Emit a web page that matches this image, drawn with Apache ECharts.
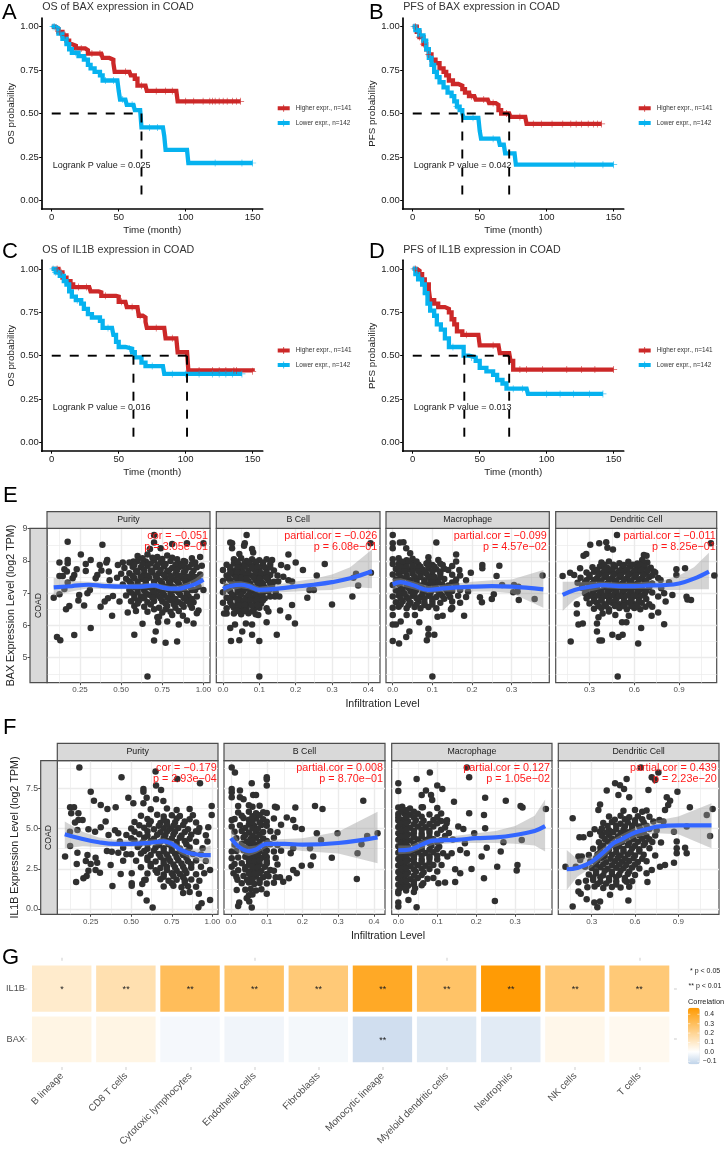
<!DOCTYPE html>
<html><head><meta charset="utf-8">
<style>html,body{margin:0;padding:0;background:#fff}#c{width:724px;height:1149px}</style>
<script src="https://cdn.jsdelivr.net/npm/echarts@6/dist/echarts.min.js"></script>
</head><body><div id="c"></div>
<script>
const ff='"Liberation Sans",Arial,sans-serif';
const RED='#cc2828',BLUE='#06b2ef';
const seriesHigh='Higher expr., n=141',seriesLow='Lower expr., n=142';
// Kaplan-Meier curves: flat month,survival pairs
const A_high=[0,1,3,.99,5,.97,8,.95,11,.92,13,.9,15,.89,18,.875,25,.865,27,.845,37,.845,38,.82,43,.81,46,.79,47,.74,58,.74,59,.72,62,.7,64,.66,70,.655,71,.63,93,.63,94,.57,141,.57];
const A_low=[0,1,3,.99,5,.96,8,.93,11,.9,13,.87,15,.85,20,.83,24,.81,27,.78,29,.76,32,.74,36,.72,38,.69,49,.685,50,.63,51,.58,55,.575,56,.55,61,.55,62,.52,66,.51,67,.42,83,.42,84,.37,85,.29,101,.29,102,.215,150,.215];
const B_high=[0,1,3,.97,5,.94,8,.9,10,.87,12,.84,14,.81,17,.79,20,.76,23,.74,25,.72,27,.69,30,.67,34,.66,37,.64,39,.62,42,.6,46,.6,47,.58,56,.58,57,.56,62,.55,64,.52,66,.5,72,.5,73,.48,84,.48,85,.44,141,.44];
const B_low=[0,1,2,.98,5,.95,8,.92,10,.87,12,.82,14,.78,16,.74,18,.71,20,.68,23,.65,26,.62,29,.6,31,.57,33,.54,35,.52,37,.5,38,.475,49,.475,50,.4,51,.355,64,.355,65,.32,68,.315,69,.27,76,.27,77,.205,150,.205];
const C_high=[0,1,5,.98,8,.95,11,.93,14,.91,16,.895,28,.89,29,.87,35,.865,37,.845,48,.84,50,.81,55,.805,56,.78,64,.775,65,.73,68,.72,70,.695,71,.66,84,.66,85,.6,93,.6,94,.52,101,.515,102,.415,150,.41];
const C_low=[0,1,3,.98,6,.96,9,.93,11,.91,13,.87,15,.84,18,.82,22,.8,24,.77,27,.74,30,.72,36,.7,38,.66,45,.655,46,.62,48,.58,50,.55,55,.54,60,.52,62,.49,67,.46,70,.44,83,.435,84,.395,142,.395];
const D_high=[0,1,3,.99,5,.97,7,.94,9,.91,12,.88,13,.82,16,.8,19,.78,24,.77,27,.75,29,.71,31,.68,33,.64,37,.62,49,.62,50,.56,64,.56,65,.515,72,.51,73,.47,75,.42,150,.42];
const D_low=[0,1,2,.97,4,.94,7,.91,9,.86,11,.8,13,.76,16,.73,18,.68,21,.65,24,.6,27,.55,36,.55,38,.5,42,.49,47,.47,50,.43,55,.41,60,.39,63,.36,67,.34,70,.31,85,.31,86,.28,142,.28];
// censor times
const A_high_c=[3,6,10,22,30,36,55,67,78,85,90,100,106,113,118,120,122,125,128,131,135,138,141];
const A_low_c=[1,2,4,12,18,26,40,46,53,60,73,79,122,142,150];
const B_high_c=[2,5,8,12,26,44,53,60,70,80,90,96,104,112,118,122,126,131,135,138,141];
const B_low_c=[1,3,6,9,11,15,33,45,60,72,121,142,150];
const C_high_c=[4,7,20,26,40,52,60,66,78,90,110,120,125,130,136,138,150];
const C_low_c=[1,3,5,8,12,19,42,58,75,90,100,110,120,125,130,135,142];
const D_high_c=[2,4,40,60,80,85,97,115,126,136,150];
const D_low_c=[1,3,6,10,30,44,75,82,100,110,120,132,142];
const medians=[[67],[37,72],[61,101],[38.5,72]];
const kmTitles=['OS of BAX expression in COAD','PFS of BAX expression in COAD','OS of IL1B expression in COAD','PFS of IL1B expression in COAD'];
const kmPvals=['0.025','0.042','0.016','0.013'];
const kmYNames=['OS probability','PFS probability','OS probability','PFS probability'];
const kmXTicks=[0,50,100,150],kmYTicks=[0,.25,.5,.75,1];
// smooth fits: flat x,y,lower,upper
const e1_fit=[.09,7.18,6.92,7.48,.2,7.22,7.05,7.38,.3,7.26,7.15,7.35,.4,7.22,7.12,7.33,.5,7.2,7.12,7.28,.6,7.2,7.12,7.29,.7,7.24,7.16,7.32,.75,7.18,7.1,7.27,.8,7.14,7.06,7.22,.85,7.14,7.05,7.24,.9,7.2,7.08,7.32,.95,7.28,7.12,7.45,1,7.42,7.2,7.65];
const e2_fit=[0,7.13,6.9,7.35,.02,7.22,7.08,7.36,.05,7.26,7.15,7.37,.07,7.22,7.12,7.32,.1,7.1,7,7.2,.15,7.14,7.02,7.27,.2,7.2,7.05,7.36,.25,7.26,7.08,7.45,.3,7.34,7.1,7.58,.35,7.46,7.2,7.8,.41,7.68,7.15,8.35];
const e3_fit=[0,7.27,7.1,7.45,.02,7.34,7.22,7.46,.05,7.25,7.13,7.37,.09,7.1,7,7.22,.13,7.15,7.05,7.26,.2,7.2,7.05,7.35,.25,7.22,7.05,7.4,.3,7.2,7,7.42,.38,7.12,6.55,7.72];
const e4_fit=[.12,6.95,6.45,7.35,.2,7.1,6.8,7.35,.3,7.2,7.05,7.35,.4,7.25,7.15,7.35,.5,7.22,7.13,7.32,.6,7.22,7.13,7.32,.7,7.24,7.13,7.36,.8,7.25,7.1,7.4,.9,7.3,7.1,7.55,1,7.45,7.12,7.8,1.1,7.67,7.12,8.25];
const f1_fit=[.09,4.64,3.77,5.43,.2,4.35,3.9,4.8,.3,4.15,3.85,4.45,.4,4.05,3.85,4.3,.5,4.05,3.85,4.3,.6,4.1,3.9,4.3,.7,4.2,4,4.4,.75,4.05,3.85,4.25,.8,3.7,3.45,3.95,.85,3.5,3.2,3.75,.9,3.4,3.05,3.7,.95,3.35,2.9,3.8,.99,3.35,2.8,3.95];
const f2_fit=[0,4.4,3.8,5,.02,3.9,3.5,4.3,.05,3.6,3.3,3.9,.07,3.7,3.45,3.95,.1,4.05,3.8,4.3,.15,4.05,3.75,4.35,.2,4,3.6,4.4,.3,4.1,3.45,4.8,.41,4.45,2.85,6.05];
const f3_fit=[0,3.65,3.4,3.95,.03,3.7,3.45,3.95,.06,4,3.75,4.25,.09,4.25,4,4.45,.15,4.3,4.1,4.55,.2,4.4,4.1,4.7,.25,4.45,4.1,4.85,.3,4.6,4.05,5.15,.35,4.85,3.95,5.8,.377,5.15,3.57,6.8];
const f4_fit=[.127,2.47,1.18,3.67,.2,2.55,2,3.1,.3,2.94,2.6,3.3,.4,3.67,3.35,3.95,.45,4.08,3.8,4.35,.5,4.3,4,4.6,.6,4.75,4.45,5.05,.7,5,4.65,5.35,.75,5.12,4.7,5.5,.9,5.2,4.65,5.75,1.13,5.2,3.77,6.57];
// scatter values: flat x,y pairs
const e1_pts=[.175,8.59,.7,8.8,.7,8.57,.675,8.37,.74,8.39,.386,8.5,.9,8.55,1,8.55,.81,8.52,.255,8.2,.315,8.03,.125,7.95,.175,8.03,.175,7.93,.285,7.9,.415,8.03,.41,7.95,.51,7.95,.48,7.87,.575,7.98,.37,7.87,.23,7.74,.155,7.74,.17,7.67,.285,7.69,.38,7.7,.425,7.67,.355,7.56,.345,7.46,.125,7.53,.145,7.53,.215,7.56,.205,7.46,.175,7.33,.5,7.6,.43,7.4,.475,7.48,.09,6.86,.125,6.97,.155,7.13,.165,6.5,.185,6.6,.24,6.77,.245,6.94,.295,7,.31,7.1,.275,6.62,.375,6.58,.4,6.74,.42,6.84,.45,6.91,.49,6.74,.445,6.3,.315,5.92,.215,5.7,.11,5.64,.13,5.54,.54,6.4,.59,6.45,.58,5.71,.63,6.05,.66,6.42,.71,5.81,.7,5.53,.77,5.46,.84,5.5,.66,4.42,.9,6.15,.94,6.06,.85,6.03,.78,6.12,.725,6.1,.73,6.27,.81,6.32,.875,6.3,.97,6.46,.96,6.38,
.6,8.15,.66,8.2,.72,8.12,.78,8.17,.84,8.05,.93,8.08,.98,8.12,.55,7.95,.6,8,.65,7.98,.7,8.02,.74,7.95,.8,8,.85,7.92,.89,7.97,.95,7.95,.52,7.78,.57,7.82,.62,7.8,.66,7.85,.71,7.8,.76,7.83,.81,7.78,.86,7.82,.91,7.8,.96,7.8,.99,7.85,.55,7.62,.6,7.65,.64,7.6,.69,7.64,.73,7.62,.78,7.66,.83,7.6,.88,7.64,.93,7.6,.98,7.58,.53,7.45,.58,7.47,.63,7.44,.67,7.48,.72,7.45,.77,7.48,.82,7.43,.87,7.47,.92,7.44,.97,7.42,.51,7.27,.56,7.3,.6,7.27,.65,7.3,.7,7.28,.75,7.3,.8,7.27,.85,7.3,.9,7.28,.95,7.1,1,7.1,.55,7.1,.6,7.12,.64,7.08,.69,7.12,.73,7.1,.78,7.13,.83,7.08,.88,7.12,.93,7.1,.53,6.93,.58,6.95,.62,6.9,.67,6.95,.72,6.92,.76,6.95,.81,6.9,.86,6.94,.91,6.9,.96,6.9,.56,6.75,.61,6.78,.66,6.72,.7,6.76,.75,6.74,.8,6.78,.85,6.72,.9,6.76,.94,6.72,.58,6.6,.64,6.58,.73,6.55,.78,6.6,.83,6.55,.88,6.58,.93,6.55,.75,6.4,.8,6.42,.72,6.25,
.63,8.08,.69,8.1,.75,8.06,.81,8.1,.88,8,.58,7.88,.63,7.9,.68,7.92,.72,7.88,.77,7.9,.83,7.88,.88,7.87,.93,7.9,.59,7.7,.64,7.72,.68,7.7,.74,7.72,.79,7.7,.84,7.72,.89,7.7,.94,7.7,.57,7.54,.62,7.52,.66,7.54,.71,7.53,.76,7.56,.8,7.53,.85,7.54,.9,7.52,.95,7.5,.55,7.37,.6,7.36,.65,7.38,.7,7.36,.74,7.38,.79,7.36,.84,7.37,.89,7.36,.94,7.34,.58,7.19,.63,7.2,.67,7.18,.72,7.2,.77,7.2,.82,7.18,.87,7.2,.92,7.18,.97,7.2,.56,7.02,.6,7.03,.65,7,.7,7.03,.75,7.02,.8,7,.85,7.02,.9,7,.58,6.85,.64,6.84,.69,6.86,.74,6.84,.78,6.86,.83,6.82,.88,6.85,.93,6.82,.6,6.68,.68,6.65,.77,6.68,.82,6.66,.87,6.66,.92,6.64,.7,6.5,.85,6.45,.77,6.5];
const e2_pts=[.065,8.8,.02,8.57,.025,8.55,.06,8.55,.058,8.47,.025,8.39,.08,8.37,.083,8.26,.045,8.21,.18,8.2,.2,7.95,.177,7.8,.16,7.87,.135,8.03,.22,7.72,.28,7.9,.258,7.55,.407,7.63,.406,8.55,.359,7.48,.366,7.6,.372,7.24,.356,6.9,.3,6.65,.232,6.86,.238,7.1,.25,7.1,.19,7.36,.166,7.51,.18,7.4,.152,7.36,.19,6.63,.157,6.46,.18,6.25,.198,6.06,.148,5.71,.12,6.1,.1,5.52,.1,4.42,.08,5.71,.053,5.81,.045,5.54,.022,5.52,.02,5.92,.033,6.03,.003,6.37,.01,6.37,.063,6.06,.08,6.03,.097,6.32,.12,6.53,.125,6.43,.143,6.9,.155,6.9,.13,6.9,
.03,8.05,.05,8.08,.065,8,.08,8.05,.1,8.02,.12,8.05,.01,7.88,.03,7.92,.045,7.87,.06,7.93,.075,7.88,.09,7.92,.11,7.86,.13,7.9,0,7.72,.02,7.75,.035,7.7,.05,7.74,.07,7.7,.085,7.75,.1,7.71,.12,7.74,.14,7.7,.01,7.55,.03,7.58,.045,7.53,.06,7.57,.08,7.54,.095,7.57,.11,7.53,.13,7.56,.15,7.55,0,7.38,.02,7.4,.04,7.36,.055,7.4,.07,7.37,.09,7.4,.105,7.36,.125,7.39,.14,7.35,.01,7.2,.03,7.23,.05,7.19,.065,7.22,.08,7.2,.1,7.23,.115,7.18,.135,7.22,0,7.03,.02,7.06,.04,7.02,.055,7.05,.075,7.02,.09,7.05,.11,7.01,.125,7.05,.145,7.03,.01,6.86,.03,6.88,.045,6.84,.065,6.87,.08,6.85,.1,6.88,.115,6.84,0,6.7,.02,6.72,.04,6.68,.055,6.72,.07,6.68,.09,6.72,.105,6.68,.01,6.53,.03,6.55,.05,6.51,.065,6.55,.085,6.51,.1,6.55,.03,6.37,.05,6.35,.07,6.38,.09,6.35,
.04,7.98,.07,7.95,.09,7.97,.11,7.95,.02,7.8,.04,7.8,.06,7.82,.08,7.8,.095,7.82,.115,7.8,.13,7.8,.02,7.63,.04,7.65,.055,7.63,.07,7.62,.09,7.65,.105,7.62,.12,7.63,.015,7.46,.035,7.48,.05,7.47,.065,7.46,.085,7.48,.1,7.45,.12,7.47,.025,7.3,.045,7.3,.06,7.31,.075,7.3,.095,7.31,.11,7.3,.13,7.3,.015,7.12,.04,7.12,.06,7.13,.075,7.11,.09,7.13,.11,7.1,.13,7.13,.025,6.95,.05,6.95,.07,6.94,.09,6.96,.105,6.94,.02,6.8,.04,6.78,.06,6.79,.075,6.78,.095,6.8,.11,6.78,.025,6.62,.045,6.62,.06,6.63,.08,6.62,.095,6.63,.04,6.45,.06,6.45,.08,6.44];
const e3_pts=[0,8.8,0,8.55,.018,8.57,.027,8.58,0,8.39,.034,8.39,.044,8.24,.11,8.57,.09,8.11,.115,8.03,.16,8.2,.16,7.98,.15,7.84,.126,7.87,.226,7.87,.226,7.77,.269,7.85,.262,7.53,.197,7.63,.168,7.72,.378,7.55,.276,7.25,.306,7.25,.317,7.2,.304,7.03,.315,7.05,.318,6.79,.358,6.82,.255,6.97,.25,6.82,.225,6.72,.22,6.87,.18,6.3,.147,6.5,.126,6.3,.113,6.27,.067,6.1,.09,5.9,.105,5.71,.09,5.71,.086,5.54,.042,5.81,.034,5.64,.016,5.44,0,5.52,.1,4.42,0,6.03,.008,6.03,.02,6.12,.056,6.32,.035,6.32,0,6.32,
0,8.05,.015,8.08,.035,8.02,.05,8.07,0,7.9,.016,7.93,.03,7.88,.05,7.92,.065,7.88,.085,7.92,.1,7.87,.12,7.91,.008,7.75,.025,7.78,.04,7.73,.06,7.77,.075,7.73,.09,7.77,.11,7.74,.13,7.76,.14,7.72,0,7.58,.015,7.6,.035,7.56,.05,7.6,.07,7.57,.085,7.6,.1,7.56,.12,7.6,.15,7.57,.17,7.55,.008,7.42,.025,7.44,.045,7.4,.06,7.44,.08,7.4,.095,7.43,.11,7.4,.13,7.44,.16,7.42,.185,7.4,0,7.25,.015,7.28,.035,7.23,.05,7.27,.07,7.24,.09,7.27,.105,7.23,.125,7.27,.14,7.24,.16,7.26,.008,7.08,.025,7.1,.045,7.06,.06,7.1,.08,7.06,.1,7.1,.115,7.06,.135,7.1,.15,7.07,.17,7.1,.19,7.05,0,6.9,.015,6.93,.035,6.88,.05,6.92,.07,6.88,.09,6.92,.11,6.88,.125,6.92,.145,6.88,.165,6.92,.185,6.88,.008,6.72,.025,6.75,.045,6.7,.065,6.74,.08,6.7,.1,6.74,.12,6.7,.15,6.74,.17,6.7,0,6.55,.015,6.58,.035,6.53,.055,6.57,.07,6.53,.09,6.57,.11,6.53,.15,6.55,
.025,7.97,.04,7.98,.06,7.98,.09,7.97,.015,7.83,.035,7.82,.05,7.84,.07,7.82,.09,7.84,.105,7.82,.02,7.67,.03,7.68,.05,7.66,.065,7.68,.08,7.66,.1,7.68,.12,7.67,.02,7.5,.035,7.5,.055,7.51,.07,7.5,.09,7.52,.105,7.5,.12,7.5,.02,7.33,.04,7.33,.06,7.35,.08,7.33,.1,7.34,.115,7.33,.15,7.33,.02,7.16,.04,7.16,.055,7.17,.075,7.15,.09,7.17,.11,7.16,.13,7.17,.02,7,.03,6.98,.055,7,.075,6.98,.095,7,.12,6.98,.14,7,.02,6.83,.04,6.82,.06,6.84,.08,6.82,.1,6.83,.13,6.83,.02,6.65,.04,6.63,.06,6.65,.08,6.63,.1,6.65];
const e4_pts=[.484,8.8,1.113,8.55,.305,8.5,.365,8.55,.412,8.58,.42,8.41,.457,8.35,.26,8.16,.278,8.21,.664,8.18,.682,8.16,.653,8.03,.687,7.95,.73,7.67,.17,7.63,.12,7.53,.197,7.56,.237,7.77,.882,7.74,.94,7.77,.882,7.56,.833,7.34,.776,7.41,1.136,7.55,.95,6.89,.956,6.8,.98,6.79,.855,6.94,.8,7,.81,6.74,.76,6.9,.72,6.58,.675,6.58,.76,6.4,.716,6.3,.8,6.04,.646,5.92,.626,5.44,.522,5.71,.495,5.64,.453,5.71,.367,5.53,.383,5.53,.35,5.81,.174,5.5,.489,4.42,.226,6.03,.255,6.06,.215,6.37,.215,6.66,.35,6.06,.36,6.25,.518,6.1,.547,6.1,.563,6.3,.473,6.32,.43,6.43,.388,6.37,
.38,7.95,.43,7.98,.5,7.93,.56,7.97,.62,7.92,.66,7.96,.32,7.8,.37,7.83,.42,7.78,.47,7.82,.52,7.78,.57,7.82,.62,7.78,.67,7.82,.71,7.79,.28,7.64,.33,7.66,.38,7.62,.43,7.66,.48,7.62,.53,7.66,.58,7.62,.63,7.66,.68,7.62,.74,7.64,.24,7.48,.3,7.5,.35,7.46,.4,7.5,.45,7.46,.5,7.5,.55,7.46,.6,7.5,.65,7.46,.7,7.5,.76,7.47,.22,7.32,.27,7.34,.32,7.3,.37,7.34,.42,7.3,.47,7.34,.52,7.3,.57,7.34,.62,7.3,.67,7.34,.72,7.3,.25,7.16,.3,7.18,.35,7.14,.4,7.18,.45,7.14,.5,7.18,.55,7.14,.6,7.18,.65,7.14,.7,7.18,.78,7.15,.27,7,.32,7.02,.37,6.98,.42,7.02,.47,6.98,.52,7.02,.57,6.98,.62,7.02,.67,6.98,.72,7.02,.28,6.84,.33,6.86,.38,6.82,.43,6.86,.48,6.82,.53,6.86,.58,6.82,.63,6.86,.68,6.82,.3,6.68,.35,6.7,.4,6.66,.45,6.7,.5,6.66,.55,6.7,.6,6.66,.65,6.7,.7,6.66,.33,6.52,.38,6.54,.43,6.5,.5,6.54,.55,6.5,.6,6.54,.64,6.5,
.4,7.88,.46,7.88,.53,7.87,.59,7.88,.64,7.87,.35,7.72,.4,7.72,.45,7.73,.5,7.7,.55,7.72,.6,7.7,.65,7.72,.69,7.7,.3,7.56,.36,7.57,.41,7.55,.46,7.57,.51,7.55,.56,7.57,.61,7.55,.66,7.56,.72,7.55,.28,7.4,.33,7.41,.38,7.39,.43,7.41,.48,7.39,.53,7.41,.58,7.39,.63,7.41,.68,7.39,.25,7.24,.3,7.25,.35,7.23,.4,7.25,.45,7.24,.5,7.25,.55,7.23,.6,7.25,.65,7.23,.7,7.25,.28,7.08,.33,7.09,.38,7.07,.43,7.09,.48,7.07,.53,7.09,.58,7.07,.63,7.09,.68,7.07,.3,6.92,.35,6.93,.4,6.91,.45,6.93,.5,6.91,.55,6.93,.6,6.91,.65,6.93,.33,6.76,.38,6.77,.43,6.75,.47,6.76,.53,6.75,.58,6.77,.63,6.75,.36,6.6,.41,6.6,.47,6.6,.53,6.6,.58,6.6,.62,6.6];
const f1_pts=[.18,8.8,.65,8.54,.44,8.18,.784,8.08,.924,7.81,.653,7.67,.25,7.29,.684,7.4,.575,7.46,.575,7.29,.482,6.92,.595,6.92,.653,6.82,.698,6.71,.27,6.73,.513,6.57,.312,6.46,.353,6.22,.404,6.32,.575,6.57,.123,6.32,.147,6.32,.13,5.95,.174,5.95,.2,5.53,.174,5.53,.153,5.37,.342,5.43,.312,5.08,.236,4.95,.277,4.8,.168,4.91,.122,4.8,.092,3.26,.123,3.92,.168,3.5,.23,3.36,.164,2.8,.28,3.19,.22,2.99,.25,2.8,.29,2.88,.236,2.37,.28,2.43,.307,2.26,.205,1.91,.225,2.05,.16,1.68,.373,2.74,.435,2.18,.384,1.43,.503,2.22,.503,1.6,.503,1.45,.554,.98,.568,1.56,.589,1.81,.595,.52,.632,.09,.917,.94,.914,.11,.934,.36,.986,.56,.986,2.43,.996,6.4,.996,5.84,.975,5.08,.914,4.8,
.62,6.2,.72,6.25,.78,6.15,.86,6.22,.56,5.8,.66,5.85,.7,5.75,.75,5.82,.8,5.78,.88,5.83,.52,5.4,.62,5.45,.68,5.35,.72,5.42,.77,5.38,.83,5.44,.9,5.37,.5,5,.58,5.05,.64,4.95,.7,5.02,.74,4.98,.79,5.04,.85,4.96,.92,5.03,.47,4.6,.55,4.65,.6,4.55,.66,4.62,.71,4.58,.76,4.63,.81,4.57,.87,4.62,.96,4.58,.43,4.2,.52,4.25,.57,4.15,.62,4.22,.68,4.18,.72,4.23,.78,4.16,.83,4.22,.9,4.18,.97,4.2,.45,3.8,.54,3.85,.6,3.75,.65,3.82,.7,3.78,.75,3.83,.8,3.76,.86,3.82,.94,3.78,.5,3.4,.56,3.45,.62,3.35,.67,3.42,.72,3.38,.77,3.43,.82,3.36,.88,3.42,.93,3.38,.53,3,.6,3.05,.65,2.95,.7,3.02,.74,2.98,.79,3.03,.85,2.96,.9,3.02,.96,2.98,.56,2.6,.62,2.65,.68,2.55,.72,2.62,.77,2.58,.82,2.63,.87,2.56,.93,2.62,.6,2.2,.66,2.25,.7,2.15,.75,2.22,.8,2.18,.84,2.23,.9,2.16,.95,2.22,.58,1.8,.68,1.85,.73,1.75,.78,1.82,.83,1.78,.87,1.83,.92,1.76,.7,1.4,.76,1.45,.81,1.35,.85,1.42,.9,1.38,.82,1,.86,1.05,.35,3.6,.38,3.55,.42,3.5,.47,3.4,.36,4.6,.4,4.9,.42,4.7,.45,3,
.6,5.6,.7,5.55,.78,5.62,.86,5.58,.55,5.2,.61,5.25,.67,5.17,.72,5.23,.76,5.18,.82,5.22,.52,4.8,.6,4.83,.68,4.77,.72,4.82,.77,4.8,.83,4.78,.9,4.83,.5,4.4,.58,4.43,.64,4.37,.7,4.42,.75,4.38,.8,4.43,.86,4.37,.55,4,.6,4.03,.67,3.97,.73,4.03,.78,3.98,.84,4.02,.58,3.6,.64,3.63,.7,3.57,.75,3.62,.8,3.58,.85,3.62,.6,3.2,.68,3.23,.73,3.17,.78,3.22,.84,3.18,.62,2.8,.7,2.83,.76,2.77,.81,2.82,.87,2.78,.65,2.4,.72,2.43,.78,2.37,.83,2.42,.7,2,.76,2.03,.82,1.97,.75,1.6,.83,1.63];
const f2_pts=[.002,8.8,.011,8.49,.1,8.18,.1,8.06,.1,7.67,.058,7.81,.002,7.46,.002,7.25,.025,7.36,.002,6.94,.025,6.94,.035,6.82,.062,7.09,.07,7.09,.37,6.73,.235,6.4,.256,6.22,.18,6.3,.123,6.36,.128,6.3,.156,5.68,.174,5.53,.18,5.08,.198,4.97,.24,4.7,.298,4.7,.381,4.54,.41,4.7,.252,4.29,.365,4.02,.221,3.77,.174,3.77,.354,3.46,.23,3.26,.282,3.19,.223,2.72,.167,3.46,.352,1.87,.198,2.68,.174,2.43,.184,2.22,.162,1.91,.146,1.7,.137,1.97,.1,.94,.058,.09,.02,.19,.023,.4,.016,1.18,.044,.67,.051,.46,.002,5.53,.002,5.12,.002,3.57,.002,3.15,.002,2.63,.007,2.22,.018,1.81,
.02,6.4,.05,6.45,.06,6.35,.08,6.42,.02,6,.05,6.05,.07,5.95,.09,6.02,.1,5.97,.01,5.6,.035,5.65,.05,5.55,.07,5.62,.09,5.58,.12,5.63,.025,5.2,.05,5.25,.065,5.15,.085,5.22,.1,5.18,.14,5.23,.01,4.8,.03,4.85,.05,4.75,.07,4.82,.09,4.78,.11,4.83,.13,4.77,.015,4.4,.035,4.45,.055,4.35,.07,4.42,.09,4.38,.12,4.43,.01,4,.03,4.05,.05,3.95,.065,4.02,.08,3.98,.11,4.03,.13,3.97,.015,3.6,.035,3.65,.05,3.55,.065,3.62,.08,3.58,.1,3.63,.12,3.57,.14,3.62,.02,3.2,.04,3.25,.055,3.15,.07,3.22,.085,3.18,.1,3.23,.125,3.17,.01,2.8,.03,2.85,.05,2.75,.065,2.82,.08,2.78,.1,2.83,.13,2.77,.02,2.4,.04,2.45,.055,2.35,.07,2.42,.085,2.38,.11,2.43,.12,2.37,.015,2,.035,2.05,.055,1.95,.07,2.02,.09,1.98,.105,2.03,.125,1.97,.03,1.6,.05,1.65,.065,1.55,.08,1.62,.1,1.58,.12,1.63,.04,1.2,.055,1.25,.07,1.15,.085,1.22,.05,.85,.06,.9,
.04,4.6,.06,4.57,.08,4.62,.045,4.2,.06,4.23,.08,4.18,.1,4.22,.04,3.8,.06,3.77,.07,3.83,.095,3.78,.045,3.4,.06,3.43,.075,3.38,.095,3.42,.05,3,.065,2.97,.08,3.03,.1,2.98,.04,2.6,.06,2.63,.075,2.58,.095,2.62,.05,2.2,.065,2.17,.08,2.23,.1,2.18,.045,1.8,.06,1.83,.08,1.78,.06,5,.075,4.97,.04,5.03,.06,5.4,.08,5.37,.1,5.42,.03,5.8,.06,5.77,.08,5.83];
const f3_pts=[.176,8.8,.081,8.49,.182,8.18,.047,8.08,0,7.81,0,7.33,.1,7.67,.113,7.46,.071,7.36,.06,7.09,.084,7.09,.087,6.78,.063,6.32,.143,6.67,.223,6.92,.276,6.73,.314,6.4,.319,6.3,.379,6.22,.182,5.95,.22,5.84,.223,5.02,.167,4.97,.195,4.7,.27,4.15,.317,4.29,.227,3.81,.263,3.57,.214,3.26,.254,2.63,.306,2.74,.304,2.39,.22,1.91,.248,.5,.188,2.49,.146,2.47,.159,2.22,.146,1.68,.12,1.64,.103,1.6,.064,1.6,.047,.11,.026,.56,0,.4,0,.15,0,.98,.043,1.29,.154,5.12,.124,5.33,.171,4.08,.176,3.46,.159,3.67,.137,3.46,.126,3.26,.111,2.74,
0,6.3,.01,6.35,.03,6.25,.06,6.32,.1,6.28,0,5.9,.015,5.95,.03,5.85,.05,5.92,.08,5.88,.11,5.93,0,5.5,.01,5.55,.025,5.45,.045,5.52,.065,5.48,.09,5.53,.11,5.47,.125,5.52,0,5.1,.015,5.15,.03,5.05,.05,5.12,.07,5.08,.09,5.13,.12,5.07,0,4.7,.01,4.75,.025,4.65,.04,4.72,.06,4.68,.08,4.73,.1,4.67,.13,4.72,0,4.3,.015,4.35,.03,4.25,.05,4.32,.07,4.28,.09,4.33,.11,4.27,.14,4.32,0,3.9,.01,3.95,.025,3.85,.045,3.92,.06,3.88,.085,3.93,.105,3.87,0,3.5,.015,3.55,.03,3.45,.05,3.52,.07,3.48,.09,3.53,.115,3.47,0,3.1,.01,3.15,.025,3.05,.04,3.12,.06,3.08,.08,3.13,.1,3.07,0,2.7,.015,2.75,.03,2.65,.05,2.72,.07,2.68,.09,2.73,0,2.3,.01,2.35,.025,2.25,.045,2.32,.065,2.28,.1,2.33,0,1.9,.015,1.95,.03,1.85,.05,1.92,.075,1.88,.09,1.93,0,1.5,.01,1.55,.025,1.45,.04,1.52,.06,1.48,0,1.1,.02,1.15,.04,1.05,
.007,6.1,.02,6.13,.04,6.05,0,5.7,.02,5.72,.04,5.68,.06,5.73,.1,5.7,.005,5.3,.02,5.33,.04,5.27,.06,5.32,.08,5.28,.1,5.33,.007,4.9,.02,4.93,.04,4.87,.06,4.92,.08,4.88,.11,4.93,.005,4.5,.02,4.53,.04,4.47,.06,4.52,.08,4.48,.12,4.53,.007,4.1,.02,4.13,.04,4.07,.06,4.12,.08,4.08,.1,4.13,.005,3.7,.02,3.73,.04,3.67,.06,3.72,.08,3.68,.1,3.73,.007,3.3,.02,3.33,.04,3.27,.06,3.32,.08,3.28,.1,3.33,.005,2.9,.02,2.93,.04,2.87,.06,2.92,.08,2.88,.007,2.5,.02,2.53,.04,2.47,.06,2.52,.08,2.48,.005,2.1,.02,2.13,.04,2.07,.06,2.12,.007,1.7,.02,1.73,.04,1.67,.005,1.3,.02,1.33];
const f4_pts=[.64,8.8,.762,8.49,.716,8.18,.74,8.02,.542,8.08,.462,7.81,.496,7.69,.524,7.46,.404,7.36,.485,7.09,.56,6.94,.693,7.4,.894,7.29,.82,6.94,.843,6.73,.83,6.46,.808,6.15,.98,6.32,1.138,6.22,1.097,5.84,.168,5.64,.358,6.5,.346,6.15,.958,5.12,.87,4.8,1.12,4.54,.889,4.19,.889,3.77,.947,3.8,.958,3.46,.889,3.46,.87,2.88,.808,2.74,.773,2.63,.716,2.43,.68,2.22,.686,1.68,.554,.52,.339,.11,.318,.4,.265,.6,.168,.15,.224,.94,.208,1.08,.208,1.66,.118,2.63,.19,2.63,.215,4.46,.243,4.46,.288,4.66,.358,4.8,.208,3.26,.231,3.26,.22,3.05,.254,2.63,.358,.46,.427,.88,.542,1.7,.75,4.9,.727,5.43,.769,5.53,.797,5.43,
.52,6.1,.6,6.15,.65,6.05,.68,6.12,.42,5.75,.5,5.8,.56,5.7,.62,5.77,.7,5.73,.38,5.35,.44,5.4,.5,5.3,.55,5.37,.6,5.33,.66,5.38,.32,4.95,.37,5,.42,4.9,.47,4.97,.52,4.93,.58,4.98,.64,4.92,.7,4.97,.37,4.55,.42,4.6,.48,4.5,.53,4.57,.58,4.53,.63,4.58,.68,4.52,.74,4.57,.35,4.15,.41,4.2,.46,4.1,.51,4.17,.56,4.13,.62,4.18,.67,4.12,.72,4.17,.78,4.13,.31,3.75,.36,3.8,.42,3.7,.47,3.77,.52,3.73,.58,3.78,.63,3.72,.7,3.77,.28,3.35,.34,3.4,.39,3.3,.44,3.37,.5,3.33,.55,3.38,.6,3.32,.66,3.37,.74,3.33,.29,2.95,.34,3,.4,2.9,.46,2.97,.51,2.93,.56,2.98,.62,2.92,.68,2.97,.3,2.55,.36,2.6,.41,2.5,.47,2.57,.52,2.53,.58,2.58,.63,2.52,.28,2.15,.33,2.2,.38,2.1,.44,2.17,.49,2.13,.55,2.18,.6,2.12,.26,1.75,.31,1.8,.36,1.7,.42,1.77,.47,1.73,.53,1.78,.58,1.72,.27,1.35,.32,1.4,.38,1.3,.44,1.37,.5,1.33,.56,1.38,
.46,5.55,.53,5.58,.6,5.52,.65,5.57,.41,5.15,.47,5.18,.53,5.12,.58,5.17,.63,5.13,.68,5.17,.4,4.75,.45,4.78,.5,4.72,.55,4.77,.6,4.73,.66,4.77,.39,4.35,.44,4.38,.49,4.32,.54,4.37,.59,4.33,.65,4.37,.7,4.33,.38,3.95,.44,3.98,.49,3.92,.55,3.97,.6,3.93,.66,3.97,.36,3.55,.41,3.58,.47,3.52,.52,3.57,.57,3.53,.63,3.57,.33,3.15,.37,3.18,.43,3.12,.48,3.17,.53,3.13,.59,3.17,.65,3.13,.33,2.75,.38,2.78,.44,2.72,.49,2.77,.54,2.73,.6,2.77,.33,2.35,.39,2.38,.44,2.32,.5,2.37,.56,2.33,.31,1.95,.36,1.98,.42,1.92,.47,1.97,.53,1.93,.34,1.55,.4,1.58,.47,1.52];
const facetNames=['Purity','B Cell','Macrophage','Dendritic Cell'];
const e_stats=[['cor = \u22120.051','p = 3.05e\u221201'],['partial.cor = \u22120.026','p = 6.08e\u221201'],['partial.cor = \u22120.099','p = 4.57e\u221202'],['partial.cor = \u22120.011','p = 8.25e\u221201']];
const f_stats=[['cor = \u22120.179','p = 2.93e\u221204'],['partial.cor = 0.008','p = 8.70e\u221201'],['partial.cor = 0.127','p = 1.05e\u221202'],['partial.cor = 0.439','p = 2.23e\u221220']];
const xMajor=[[.25,.5,.75,1],[0,.1,.2,.3,.4],[0,.1,.2,.3],[.3,.6,.9]];
const xMinor=[[.125,.375,.625,.875],[.05,.15,.25,.35],[.05,.15,.25,.35],[.15,.45,.75,1.05]];
const xFmt=[2,1,1,1];
const eYMajor=[5,6,7,8,9],eYMinor=[4.5,5.5,6.5,7.5,8.5];
const fYMajor=[0,2.5,5,7.5],fYMinor=[1.25,3.75,6.25,8.75];
// heatmap
const cells=['B lineage','CD8 T cells','Cytotoxic lymphocytes','Endothelial cells','Fibroblasts','Monocytic lineage','Myeloid dendritic cells','Neutrophils','NK cells','T cells'];
const genes=['BAX','IL1B'];
const il1bCorr=[.095,.145,.305,.28,.25,.4,.28,.46,.255,.25];
const baxCorr=[.05,.05,-.02,-.03,-.022,-.099,-.065,-.06,.04,.03];
const il1bSig=['*','**','**','**','**','**','**','**','**','**'];
const baxSig=['','','','','','**','','','',''];
const corrTicks=[.4,.3,.2,.1,0,-.1];

function pairs(a,n=2){const o=[];for(let i=0;i<a.length;i+=n)o.push(a.slice(i,i+n));return o;}
function sAt(c,t){let s=1;for(let i=0;i<c.length;i+=2){if(c[i]<=t)s=c[i+1];}return s;}
const PLUS='path://M4.5,0H5.5V4.5H10V5.5H5.5V10H4.5V5.5H0V4.5H4.5Z';
const KEY='path://M0,1.5H5.6V0H6.4V1.5H12V5.5H6.4V7H5.6V5.5H0Z';

const grid=[],xAxis=[],yAxis=[],series=[],legend=[],graphic=[];
function txt(text,x,y,o={}){graphic.push({type:'text',z:100,silent:true,x,y,rotation:o.rot||0,style:{text,fill:o.fill||'#222',font:(o.size||10)+'px '+ff,textAlign:o.align||'left',textVerticalAlign:'middle'}});}
function box(x,y,w,h){graphic.push({type:'rect',z:90,silent:true,shape:{x,y,width:w,height:h},style:{fill:'#d9d9d9',stroke:'#4d4d4d',lineWidth:1.2}});}

// --- Kaplan-Meier panels
const kmData=[[A_high,A_low,A_high_c,A_low_c],[B_high,B_low,B_high_c,B_low_c],[C_high,C_low,C_high_c,C_low_c],[D_high,D_low,D_high_c,D_low_c]];
const kmPos=[[41.7,18,0,0],[402.7,18,1,0],[41.7,260.2,0,1],[402.7,260.2,1,1]];
kmData.forEach((d,i)=>{
  const [left,top]=kmPos[i];
  const gi=grid.length;
  grid.push({left,top,width:221,height:191});
  const ax={color:'#000',width:1.7};
  xAxis.push({gridIndex:gi,type:'value',min:-7.5,max:157.5,position:'bottom',
    name:'Time (month)',nameLocation:'middle',nameGap:16,nameTextStyle:{fontFamily:ff,fontSize:9.8,color:'#222'},
    axisLine:{show:true,onZero:false,lineStyle:ax},axisTick:{show:true,length:2.5,customValues:kmXTicks,lineStyle:{color:'#000',width:1}},
    axisLabel:{customValues:kmXTicks,fontFamily:ff,fontSize:9.5,color:'#222',margin:3},splitLine:{show:false}});
  yAxis.push({gridIndex:gi,type:'value',min:-.05,max:1.05,position:'left',
    name:kmYNames[i],nameLocation:'middle',nameGap:25,nameTextStyle:{fontFamily:ff,fontSize:9.8,color:'#222'},
    axisLine:{show:true,onZero:false,lineStyle:ax},axisTick:{show:true,length:2.5,customValues:kmYTicks,lineStyle:{color:'#000',width:1}},
    axisLabel:{customValues:kmYTicks,formatter:v=>v.toFixed(2),fontFamily:ff,fontSize:9.5,color:'#222',margin:3},splitLine:{show:false}});
  [[d[0],d[2],RED,seriesHigh],[d[1],d[3],BLUE,seriesLow]].forEach(([c,cens,col,name])=>{
    series.push({type:'line',name,xAxisIndex:gi,yAxisIndex:gi,step:'end',showSymbol:false,silent:true,z:3,data:pairs(c),lineStyle:{color:col,width:4.3,join:'miter'},itemStyle:{color:col}});
    series.push({type:'scatter',xAxisIndex:gi,yAxisIndex:gi,silent:true,z:4,symbol:PLUS,symbolSize:7,data:cens.map(t=>[t,sAt(c,t)]),itemStyle:{color:col}});
  });
  const meds=medians[i],last=meds[meds.length-1];
  const dash={color:'#000',width:1.9,type:[9,9]};
  series.push({type:'line',xAxisIndex:gi,yAxisIndex:gi,silent:true,z:5,showSymbol:false,data:[[0,.5],[last,.5]],lineStyle:dash});
  meds.forEach(m=>series.push({type:'line',xAxisIndex:gi,yAxisIndex:gi,silent:true,z:5,showSymbol:false,data:[[m,.5],[m,0]],lineStyle:dash}));
  legend.push({left:left+236,top:top+86.8,orient:'vertical',padding:0,itemWidth:12,itemHeight:7,itemGap:7.6,selectedMode:false,
    data:[{name:seriesHigh,icon:KEY},{name:seriesLow,icon:KEY}],textStyle:{fontFamily:ff,fontSize:6.4,color:'#333',padding:[0,0,0,1]}});
  txt(kmTitles[i],left+0.5,top-10.5,{size:10.7,fill:'#333'});
  txt('Logrank P value = '+kmPvals[i],left+11,top+147.7,{size:9});
});
// --- scatter panels
const rowsCfg=[
 {top:528.3,h:154.4,ymin:4.225,ymax:9.01,yMajor:eYMajor,yMinor:eYMinor,yFmt:0,name:'BAX Expression Level (log2 TPM)',nameGap:13,strip:[30,47],stripTop:511.7,
  xr:[[47,210,.0493,1.04],[216.3,380,-.0184,.432],[386,549.3,-.017,.395],[555.7,716.7,.0735,1.152]],
  pts:[e1_pts,e2_pts,e3_pts,e4_pts],fit:[e1_fit,e2_fit,e3_fit,e4_fit],stats:e_stats,statY:[536,546.7],statR:[208,377.3,546.7,715.7],label:[382.5,704]},
 {top:760.7,h:153.6,ymin:-.33,ymax:9.216,yMajor:fYMajor,yMinor:fYMinor,yFmt:1,name:'IL1B Expression Level (log2 TPM)',nameGap:20,strip:[40.7,57.3],stripTop:743.3,
  xr:[[57.3,218,.044,1.035],[224,385,-.0196,.4308],[391.7,552,-.017,.3947],[558.3,719,.0685,1.182]],
  pts:[f1_pts,f2_pts,f3_pts,f4_pts],fit:[f1_fit,f2_fit,f3_fit,f4_fit],stats:f_stats,statY:[767.7,779],statR:[216.7,383,550,716.7],label:[388,935.7]}
];
const ln=(w)=>({show:true,lineStyle:{color:'#ebebeb',width:w}});
rowsCfg.forEach(r=>{
  r.xr.forEach(([l,rt,mn,mx],k)=>{
    const gi=grid.length,ax0=xAxis.length,ay0=yAxis.length;
    grid.push({left:l,top:r.top,width:rt-l,height:r.h,show:true,backgroundColor:'#fff',borderColor:'#4d4d4d',borderWidth:1.2});
    const dec=xFmt[k];
    xAxis.push({gridIndex:gi,type:'value',min:mn,max:mx,position:'bottom',axisLine:{show:false,onZero:false},
      axisTick:{show:true,length:2.5,customValues:xMajor[k],lineStyle:{color:'#333',width:.9}},
      axisLabel:{customValues:xMajor[k],formatter:v=>v.toFixed(dec),fontFamily:ff,fontSize:8,color:'#4d4d4d',margin:3},splitLine:ln(1.4)});
    xAxis.push({gridIndex:gi,type:'value',min:mn,max:mx,position:'top',axisLine:{show:false,onZero:false},
      axisTick:{show:false,customValues:xMinor[k]},axisLabel:{show:false},splitLine:ln(.7)});
    yAxis.push(Object.assign({gridIndex:gi,type:'value',min:r.ymin,max:r.ymax,position:'left',axisLine:{show:false,onZero:false},
      axisTick:{show:k===0,length:2.5,customValues:r.yMajor,lineStyle:{color:'#333',width:.9}},
      axisLabel:{show:k===0,customValues:r.yMajor,formatter:v=>v.toFixed(r.yFmt),fontFamily:ff,fontSize:8.8,color:'#4d4d4d',margin:2.5},splitLine:ln(1.4)},
      k===0?{offset:l-r.strip[0],name:r.name,nameLocation:'middle',nameGap:r.nameGap,nameTextStyle:{fontFamily:ff,fontSize:10.7,color:'#222'}}:{}));
    yAxis.push({gridIndex:gi,type:'value',min:r.ymin,max:r.ymax,position:'right',axisLine:{show:false,onZero:false},
      axisTick:{show:false,customValues:r.yMinor},axisLabel:{show:false},splitLine:ln(.7)});
    series.push({type:'scatter',xAxisIndex:ax0,yAxisIndex:ay0,silent:true,z:3,symbol:'circle',symbolSize:6.5,data:pairs(r.pts[k]),itemStyle:{color:'#303030',opacity:1}});
    const fit=pairs(r.fit[k],4);
    series.push({type:'custom',xAxisIndex:ax0,yAxisIndex:ay0,silent:true,z:4,clip:true,data:fit.map(f=>[f[0],f[2],f[3]]),encode:{x:0,y:[1,2]},
      renderItem:(p,api)=>{
        if(p.dataIndex!==0)return;
        const up=fit.map(f=>api.coord([f[0],f[3]])),lo=fit.map(f=>api.coord([f[0],f[2]])).reverse();
        return {type:'polygon',shape:{points:up.concat(lo)},style:{fill:'rgba(153,153,153,.42)'}};
      }});
    series.push({type:'line',xAxisIndex:ax0,yAxisIndex:ay0,silent:true,z:5,smooth:.4,showSymbol:false,data:fit.map(f=>[f[0],f[1]]),lineStyle:{color:'#3366ff',width:4.2}});
    box(l,r.stripTop,rt-l,r.top-r.stripTop);
    txt(facetNames[k],(l+rt)/2,(r.stripTop+r.top)/2,{size:8.8,align:'center',fill:'#1a1a1a'});
    txt(r.stats[k][0],r.statR[k],r.statY[0],{size:10.8,align:'right',fill:'#ff1a1a'});
    txt(r.stats[k][1],r.statR[k],r.statY[1],{size:10.8,align:'right',fill:'#ff1a1a'});
  });
  box(r.strip[0],r.top,r.strip[1]-r.strip[0],r.h);
  txt('COAD',(r.strip[0]+r.strip[1])/2,r.top+r.h/2,{size:8.7,align:'center',rot:Math.PI/2,fill:'#1a1a1a'});
  txt('Infiltration Level',r.label[0],r.label[1],{size:10.6,align:'center',fill:'#222'});
});
// --- heatmap
const hi=grid.length,hx=xAxis.length,hy=yAxis.length;
grid.push({left:29.9,top:963.3,width:641.5,height:104.7});
const tk={show:true,alignWithLabel:true,length:3.5,lineStyle:{color:'#dedede',width:1.5}};
const catX=(pos,lab)=>({gridIndex:hi,type:'category',data:cells,position:pos,offset:2,axisLine:{show:false},axisTick:tk,splitLine:{show:false},
  axisLabel:lab?{interval:0,rotate:45,verticalAlign:'middle',fontFamily:ff,fontSize:9.8,color:'#4d4d4d',margin:8}:{show:false}});
const catY=(pos,lab)=>({gridIndex:hi,type:'category',data:genes,position:pos,offset:2,axisLine:{show:false},axisTick:tk,splitLine:{show:false},
  axisLabel:lab?{fontFamily:ff,fontSize:9.2,color:'#4d4d4d',margin:3}:{show:false}});
xAxis.push(catX('bottom',true),catX('top',false));
yAxis.push(catY('left',true),catY('right',false));
const heat=[];
cells.forEach((c,i)=>{heat.push([i,0,baxCorr[i],baxSig[i]]);heat.push([i,1,il1bCorr[i],il1bSig[i]]);});
const hs=series.length;
series.push({type:'heatmap',xAxisIndex:hx,yAxisIndex:hy,silent:true,data:heat,
  itemStyle:{borderColor:'#fff',borderWidth:4.7},
  label:{show:true,formatter:p=>p.data[3],fontFamily:ff,fontSize:9,color:'#222',offset:[0,1]}});
const visualMap=[{seriesIndex:hs,dimension:2,type:'continuous',min:-.134,max:.47,left:688,top:1007.7,padding:0,itemWidth:11.7,itemHeight:56.6,calculable:false,showLabel:false,text:['',''],
  inRange:{color:['#bfd3e9','#dfe9f4','#ffffff','#fff1db','#ffe2b6','#ffd492','#ffc56d','#ffb749','#ffa824','#ff9900']}}];
txt('* p < 0.05',690,970.7,{size:7,fill:'#222'});
txt('** p < 0.01',688.5,986,{size:7,fill:'#222'});
txt('Correlation',688,1001.7,{size:7.4,fill:'#222'});
corrTicks.forEach((t,i)=>{
  const y=1014.3+i*9.4;
  txt(t<0?'\u22120.1':t.toFixed(1),t<0?703:704.5,y,{size:6.8,fill:'#222'});
  graphic.push({type:'line',z:100,silent:true,shape:{x1:688,y1:y,x2:690.3,y2:y},style:{stroke:'#fff',lineWidth:.6}});
  graphic.push({type:'line',z:100,silent:true,shape:{x1:697.4,y1:y,x2:699.7,y2:y},style:{stroke:'#fff',lineWidth:.6}});
});
// panel letters
[['A',2,13],['B',369,13],['C',2,252],['D',369,252],['E',3,496],['F',3,728],['G',2,958]].forEach(l=>txt(l[0],l[1],l[2],{size:22,fill:'#000'}));

const chart=echarts.init(document.getElementById('c'),null,{renderer:'canvas'});
chart.setOption({animation:false,backgroundColor:'#fff',textStyle:{fontFamily:ff},grid,xAxis,yAxis,series,legend,visualMap,graphic:{elements:graphic}});
</script></body></html>
